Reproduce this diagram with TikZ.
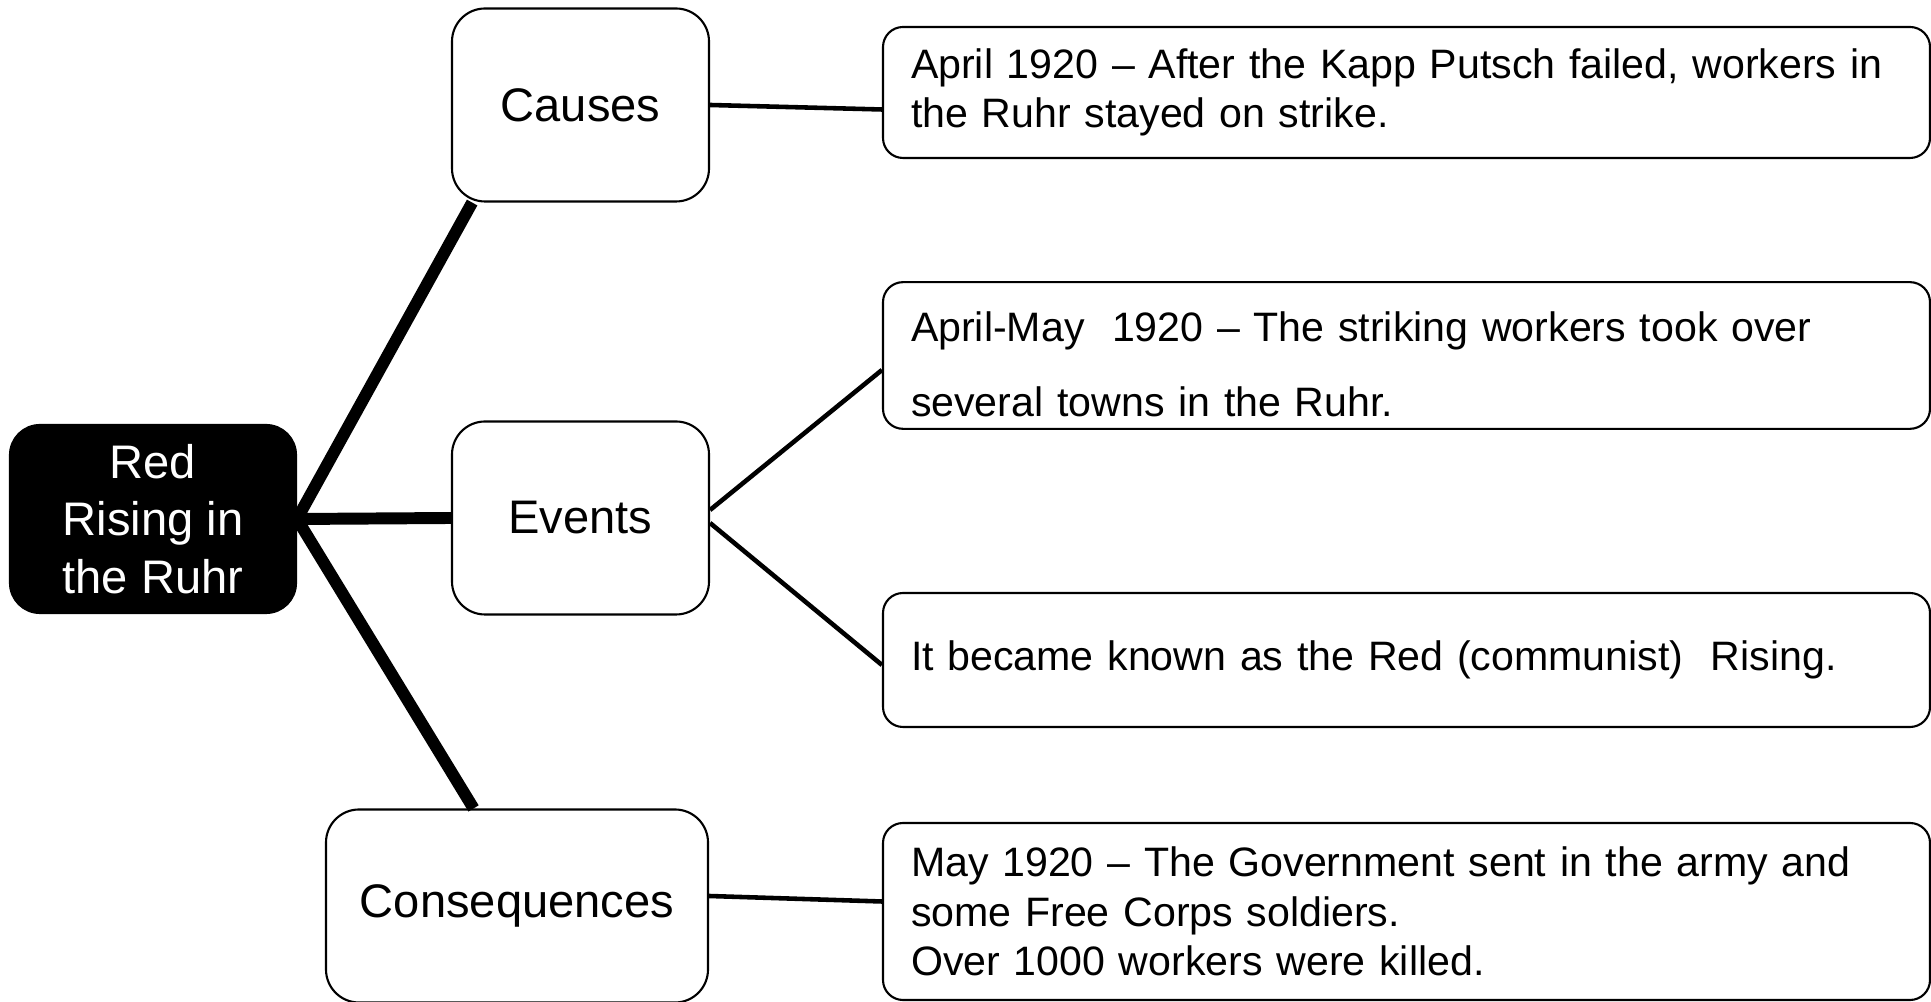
\documentclass[tikz,border=0pt]{standalone}
\usepackage{fontspec}
\setmainfont{Liberation Sans}
\usetikzlibrary{calc, positioning}

\begin{document}
\begin{tikzpicture}[
      topic/.style={draw=black, fill=black, text=white, rounded corners=0.3cm,
         line width=0.6pt, minimum width=2.86cm, minimum height=1.88cm,
         align=center, font=\fontsize{13.4pt}{16.4pt}\selectfont},
      branch/.style={draw=black, fill=white, rounded corners=0.33cm,
         line width=0.6pt, minimum width=2.57cm, minimum height=1.93cm,
         align=center, font=\fontsize{13.4pt}{16.4pt}\selectfont},
      detail/.style={draw=black, fill=white, rounded corners=0.2cm,
         line width=0.6pt, inner xsep=0.28cm, text width=9.91cm,
         align=left, font=\fontsize{11.7pt}{14pt}\selectfont},
      trunk/.style={line width=3.4pt},
      twig/.style={line width=1.3pt}
   ]
      \useasboundingbox (0,0) rectangle (19.31,10.02);
      % Centre
      \node[topic] (root) at (1.53,4.83) {Red\\Rising in\\the Ruhr};
      % Branches
      \node[branch] (causes) at (5.805,8.97) {Causes};
      \node[branch] (events) at (5.805,4.84) {Events};
      \node[branch, minimum width=3.82cm] (conseq) at (5.17,0.96) {Consequences};
      % Details
      \node[detail, minimum height=1.31cm] (cause1) at (14.065,9.095)
         {April 1920 -- After the Kapp Putsch failed, workers in\\the Ruhr stayed on strike.};
      \node[detail, minimum height=1.33cm, text height=0.48cm] (event1) at (14.065,6.465)
         {April-May\ \ 1920 -- The striking workers took over\\[7.3pt]several towns in the Ruhr.};
      \node[detail, minimum height=1.34cm] (event2) at (14.065,3.42)
         {It became known as the Red (communist)\ \ Rising.};
      \node[detail, minimum height=1.77cm] (conseq1) at (14.065,0.905)
         {May 1920 -- The Government sent in the army and\\some Free Corps soldiers.\\Over 1000 workers were killed.};
      % Trunks
      \draw[trunk] (root.east) -- (causes.222);
      \draw[trunk] (root.east) -- (events.west);
      \draw[trunk] (root.east) -- (conseq.114);
      % Twigs
      \draw[twig] (causes.east) -- ($(cause1.west)+(0,-0.17)$);
      \draw[twig] ($(events.east)+(0,0.08)$) -- ($(event1.west)+(0,-0.145)$);
      \draw[twig] ($(events.east)+(0,-0.05)$) -- ($(event2.west)+(0,-0.05)$);
      \draw[twig] ($(conseq.east)+(0,0.1)$) -- ($(conseq1.west)+(0,0.1)$);
   \end{tikzpicture}
\end{document}
